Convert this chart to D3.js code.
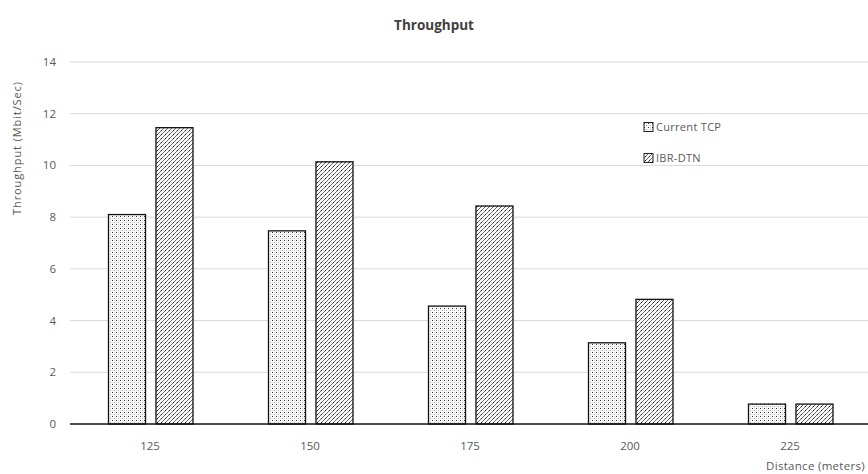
<!DOCTYPE html>
<html>
<head>
<meta charset="utf-8">
<script src="https://cdn.jsdelivr.net/npm/d3@7"></script>
<style>
  html, body { margin: 0; padding: 0; background: #fff; }
  svg { display: block; }
  text { font-family: "Open Sans", "Noto Sans", sans-serif; }
</style>
</head>
<body>
<svg id="chart" width="868" height="474"></svg>
<script>
// Throughput by distance for the two transport schemes
const distances = ["125", "150", "175", "200", "225"];
const seriesNames = ["Current TCP", "IBR-DTN"];
const currentTcp = [8.1, 7.47, 4.56, 3.14, 0.77];
const ibrDtn = [11.46, 10.14, 8.43, 4.82, 0.77];
const yTicks = [0, 2, 4, 6, 8, 10, 12, 14];

const svg = d3.select("#chart");
const margin = { left: 70, right: -2, top: 62, bottom: 50 };
const W = 868, H = 474;

const x = d3.scaleBand().domain(distances).range([margin.left, W - margin.right]).paddingInner(0).paddingOuter(0);
const xs = d3.scaleBand().domain(seriesNames).range([38.5, 123]).paddingInner(0.22);
const y = d3.scaleLinear().domain([0, 14]).range([H - margin.bottom, margin.top]);

// fill patterns
const defs = svg.append("defs");
const dots = defs.append("pattern").attr("id", "dots").attr("patternUnits", "userSpaceOnUse")
  .attr("width", 4).attr("height", 4);
dots.append("rect").attr("width", 4).attr("height", 4).attr("fill", "#fff");
dots.append("rect").attr("x", 0).attr("y", 0).attr("width", 1).attr("height", 1).attr("fill", "#333");
dots.append("rect").attr("x", 2).attr("y", 2).attr("width", 1).attr("height", 1).attr("fill", "#aaa");
dots.append("rect").attr("x", 2).attr("y", 0).attr("width", 1).attr("height", 1).attr("fill", "#ddd");
dots.append("rect").attr("x", 0).attr("y", 2).attr("width", 1).attr("height", 1).attr("fill", "#ddd");

const hatch = defs.append("pattern").attr("id", "hatch").attr("patternUnits", "userSpaceOnUse")
  .attr("width", 4).attr("height", 4);
hatch.append("rect").attr("width", 4).attr("height", 4).attr("fill", "#fafafa");
hatch.append("path").attr("d", "M-1,1 L1,-1 M0,4 L4,0 M3,5 L5,3")
  .attr("stroke", "#555").attr("stroke-width", 0.9);
hatch.append("rect").attr("x", 1).attr("y", 2).attr("width", 1).attr("height", 1).attr("fill", "#111");

// gridlines
svg.append("g").selectAll("line").data(yTicks.filter(d => d > 0)).join("line")
  .attr("x1", margin.left).attr("x2", W)
  .attr("y1", d => y(d)).attr("y2", d => y(d))
  .attr("stroke", "#d9d9d9").attr("stroke-width", 1);

// y tick labels
svg.append("g").selectAll("text").data(yTicks).join("text")
  .attr("x", 56).attr("y", d => y(d)).attr("dy", "0.35em")
  .attr("text-anchor", "end").attr("font-size", 11.5).attr("fill", "#595959")
  .text(d => d);

// bars
const seriesData = [currentTcp, ibrDtn];
const fills = ["url(#dots)", "url(#hatch)"];
seriesNames.forEach((name, si) => {
  svg.append("g").selectAll("rect").data(distances).join("rect")
    .attr("x", (d) => x(d) + xs(name))
    .attr("width", xs.bandwidth())
    .attr("y", (d, i) => y(seriesData[si][i]))
    .attr("height", (d, i) => y(0) - y(seriesData[si][i]))
    .attr("fill", fills[si])
    .attr("stroke", "#111").attr("stroke-width", 1.3);
});

// x axis baseline
svg.append("line").attr("x1", margin.left).attr("x2", W)
  .attr("y1", y(0)).attr("y2", y(0))
  .attr("stroke", "#111").attr("stroke-width", 1.6);

// x tick labels
svg.append("g").selectAll("text").data(distances).join("text")
  .attr("x", d => x(d) + x.bandwidth() / 2).attr("y", 450)
  .attr("text-anchor", "middle").attr("font-size", 11.5).attr("fill", "#595959")
  .text(d => d);

// title
svg.append("text").attr("x", 434).attr("y", 30).attr("text-anchor", "middle")
  .attr("font-size", 13.5).attr("font-weight", "bold").attr("fill", "#404040")
  .text("Throughput");

// axis titles
svg.append("text").attr("transform", "translate(21,148) rotate(-90)")
  .attr("text-anchor", "middle").attr("font-size", 11).attr("letter-spacing", 0.9)
  .attr("fill", "#595959")
  .text("Throughput (Mbit/Sec)");
svg.append("text").attr("x", 865).attr("y", 470).attr("text-anchor", "end")
  .attr("font-size", 11.5).attr("letter-spacing", 0.3).attr("fill", "#595959")
  .text("Distance (meters)");

// legend
const legend = svg.append("g").selectAll("g").data(seriesNames).join("g")
  .attr("transform", (d, i) => `translate(644, ${127 + i * 31})`);
legend.append("rect").attr("x", 0).attr("y", -4.5).attr("width", 9).attr("height", 9)
  .attr("fill", (d, i) => fills[i]).attr("stroke", "#222").attr("stroke-width", 1);
legend.append("text").attr("x", 12).attr("y", 0).attr("dy", "0.35em")
  .attr("font-size", 11).attr("letter-spacing", 0.3).attr("fill", "#595959").text(d => d);
</script>
</body>
</html>
